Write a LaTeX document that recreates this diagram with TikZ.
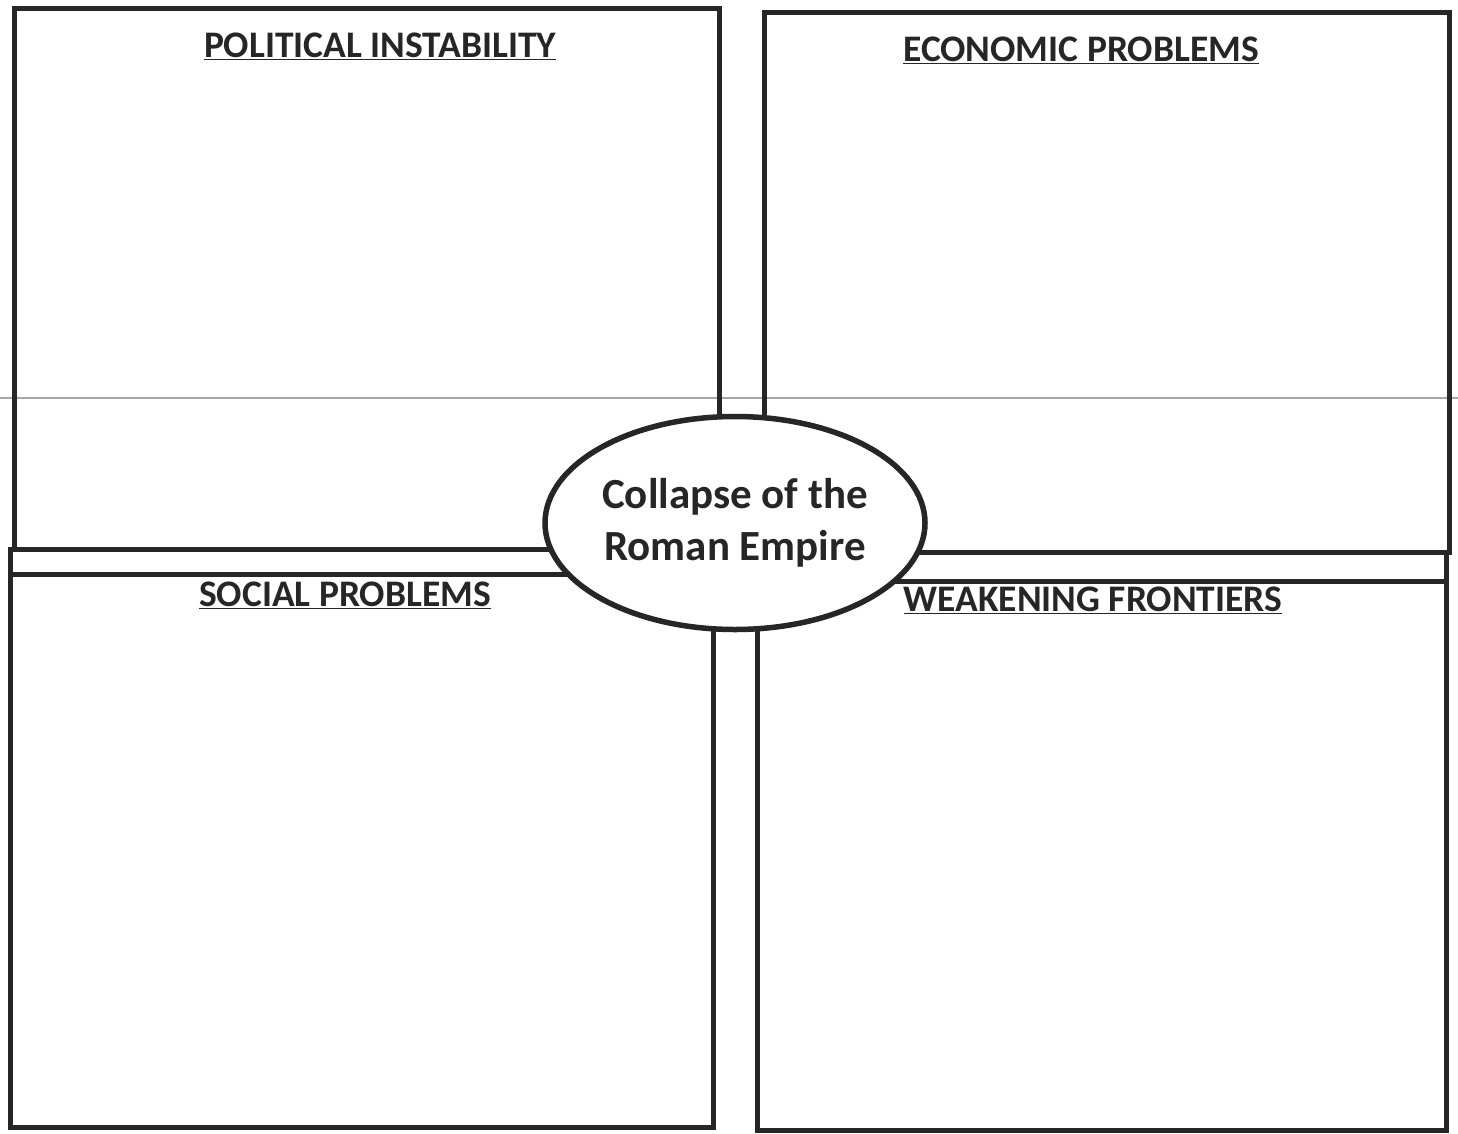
\documentclass[tikz,border=0pt]{standalone}
\usepackage{fontspec}
\setmainfont{Carlito}
\usetikzlibrary{shapes.geometric}
\begin{document}
\begin{tikzpicture}[x=1pt,y=-1pt,
  frame/.style={draw=black!85,line width=5pt,line join=miter},
  title/.style={font=\bfseries\fontsize{37.5}{44}\selectfont,text=black!85,inner sep=0pt},
  hub/.style={ellipse,draw=black!85,line width=5.5pt,fill=white,minimum width=380pt,minimum height=213pt,inner sep=0pt,align=center,font=\bfseries\fontsize{43}{52}\selectfont,text=black!85}]
\useasboundingbox[fill=white] (0,0) rectangle (1458,1133);
% scan fold line
\draw[black!35,line width=1.5pt] (0,398) -- (1458,398);
% boxes
\draw[frame] (14,8) rectangle (719,549);
\draw[frame] (764,12) rectangle (1449,552);
\draw[frame] (10,549) rectangle (713,1127);
\draw[frame] (757,552) rectangle (1446,1130);
\coordinate (lstripL) at (10,574);
\coordinate (lstripR) at (700,574);
\coordinate (rstripL) at (770,581);
\coordinate (rstripR) at (1446,581);
\draw[frame] (lstripL) -- (lstripR);
\draw[frame] (rstripL) -- (rstripR);
% centre
\node[hub] (hub) at (735,523) {Collapse of the\\Roman Empire};
% titles
\node[title] (pol) at (380,46) {\underline{POLITICAL INSTABILITY}};
\node[title] (eco) at (1081,50) {\underline{ECONOMIC PROBLEMS}};
\node[title] (soc) at (345,595) {\underline{SOCIAL PROBLEMS}};
\node[title] (wea) at (1093,600) {\underline{WEAKENING FRONTIERS}};
\end{tikzpicture}
\end{document}
